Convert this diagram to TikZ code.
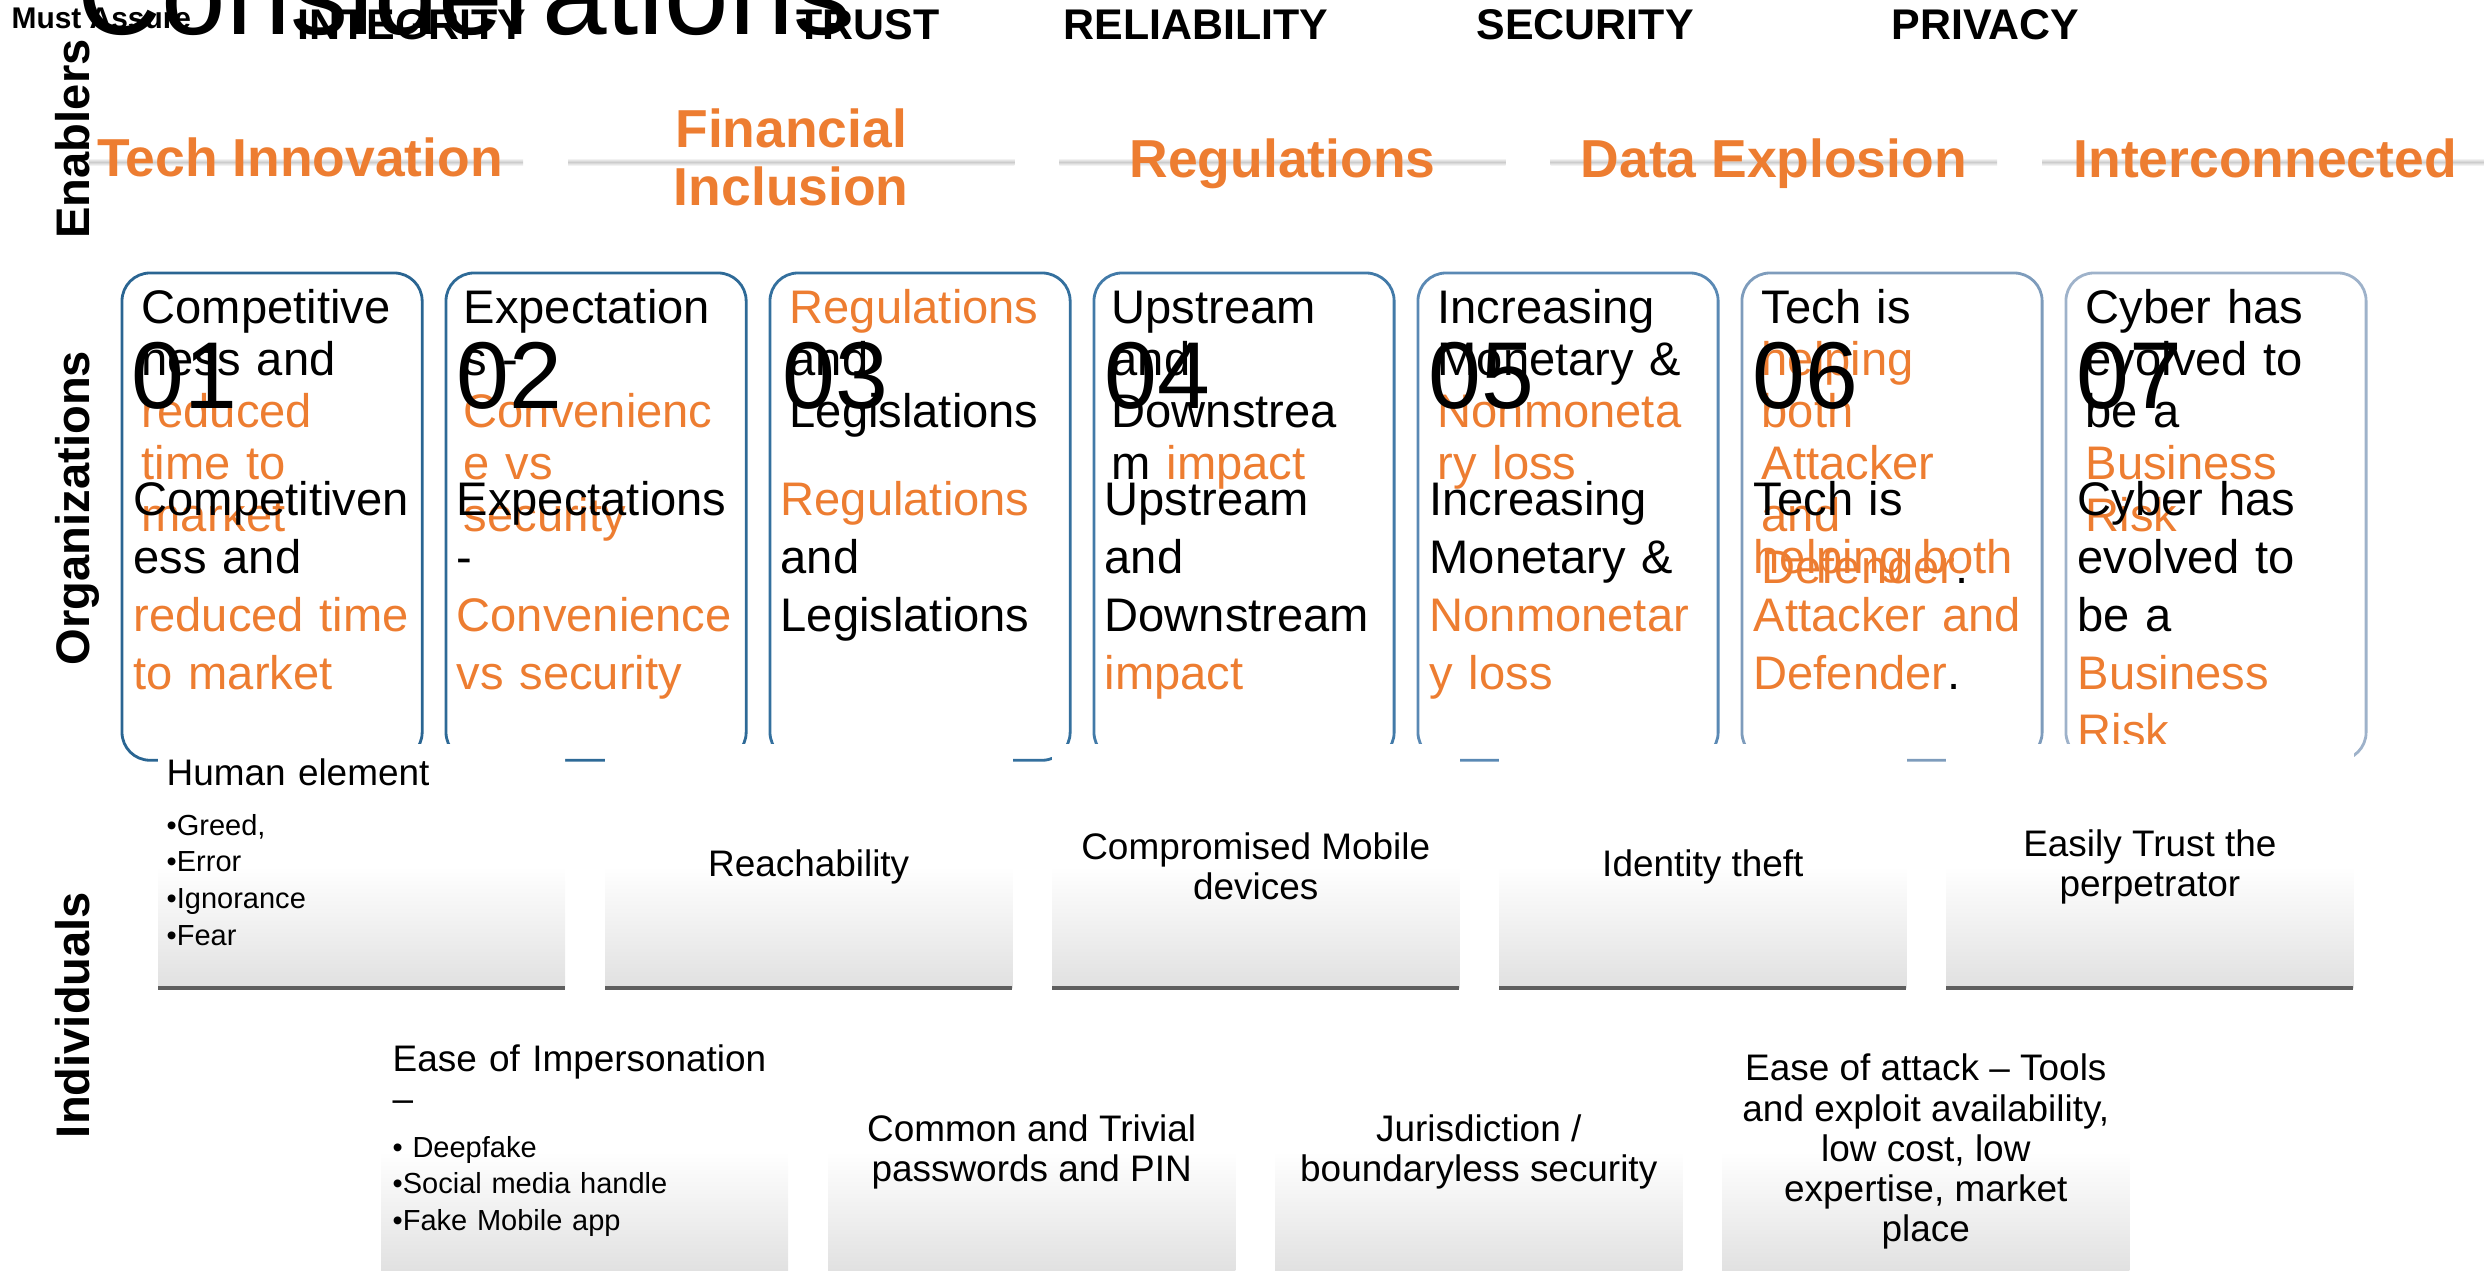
\documentclass[tikz,border=0pt]{standalone}
\usepackage{fontspec}
\setmainfont{Liberation Sans}
\usepackage{xcolor}
\usepackage{tikz}
\usetikzlibrary{positioning}
\definecolor{accent}{RGB}{237,125,49}
\definecolor{orgA}{RGB}{42,101,146}
\definecolor{orgB}{RGB}{46,106,151}
\definecolor{orgC}{RGB}{52,112,158}
\definecolor{orgD}{RGB}{66,122,168}
\definecolor{orgE}{RGB}{90,137,180}
\definecolor{orgF}{RGB}{126,156,188}
\definecolor{orgG}{RGB}{158,178,202}
\tikzset{
header/.style={
font=\fontsize{12.2}{14}\selectfont\bfseries,
inner sep=0pt,
anchor=base west
},
sidelabel/.style={
font=\fontsize{13.4}{16}\selectfont\bfseries,
rotate=90,
anchor=base,
inner sep=0pt
},
enabler/.style={
font=\fontsize{15.2}{16.5}\selectfont\bfseries,
text=accent,
align=center,
inner sep=0pt
},
bar/.style={
minimum width=4.46cm,
minimum height=0.08cm,
inner sep=0pt,
outer sep=0pt,
top color=white,
bottom color=white,
middle color=black!20
},
orgbox/.style={
draw,
rounded corners=0.28cm,
line width=0.8pt,
minimum width=3cm,
minimum height=4.87cm,
inner sep=0pt,
outer sep=0pt
},
layerone/.style={
font=\fontsize{13.4}{14.8}\selectfont,
text width=3cm,
align=left,
inner sep=0pt,
anchor=base west
},
layertwo/.style={
font=\fontsize{13.4}{16.5}\selectfont,
text width=3cm,
align=left,
inner sep=0pt,
anchor=base west
},
bignum/.style={
font=\fontsize{27}{30}\selectfont,
inner sep=0pt,
anchor=base west
},
card/.style={
minimum width=4.07cm,
minimum height=2.43cm,
inner sep=0pt,
outer sep=0pt,
top color=white,
bottom color=black!12,
middle color=white
},
cardbase/.style={
line width=1.14pt,
black!63
},
cardtext/.style={
font=\fontsize{10.5}{11.4}\selectfont,
align=center,
inner sep=0pt
},
cardtitle/.style={
font=\fontsize{10.5}{11.4}\selectfont,
text width=3.9cm,
align=left,
inner sep=0pt,
anchor=base west
},
bullets/.style={
font=\fontsize{8.25}{10.5}\selectfont,
text width=3.9cm,
align=left,
inner sep=0pt,
anchor=base west
}
}

\begin{document}
\begin{tikzpicture}[x=0.01cm,y=-0.01cm]

\useasboundingbox (0,0) rectangle (2484,1271);

% title and top row
\node[inner sep=0pt,anchor=base west,font=\fontsize{33}{36}\selectfont] (title) at (77,35) {Considerations};

\node[header,font=\fontsize{8.5}{10}\selectfont\bfseries] (assure) at (11,29) {Must Assure};

\node[header] (integrity) at (297,40) {INTEGRITY};

\node[header] (trust) at (796,40) {TRUST};

\node[header] (reliability) at (1063,40) {RELIABILITY};

\node[header] (security) at (1476,40) {SECURITY};

\node[header] (privacy) at (1891,40) {PRIVACY};

% row labels
\node[sidelabel] (enablers) at (90,139) {Enablers};

\node[sidelabel] (organizations) at (90,508) {Organizations};

\node[sidelabel] (individuals) at (90,1015) {Individuals};

% enablers
\node[bar,minimum width=4.34cm] (bar1) at (306,162) {};

\node[bar,right=0.45cm of bar1] (bar2) {};

\node[bar,right=0.45cm of bar2] (bar3) {};

\node[bar,right=0.45cm of bar3] (bar4) {};

\node[bar,right=0.45cm of bar4] (bar5) {};

\node[enabler,anchor=base] (tech) at ([xshift=-0.06cm,yshift=-0.15cm]bar1.center) {Tech Innovation};

\node[enabler,anchor=base,text width=4cm] (finance) at ([yshift=0.14cm]bar2.center) {Financial\\Inclusion};

\node[enabler,anchor=base] (regs) at ([yshift=-0.16cm]bar3.center) {Regulations};

\node[enabler,anchor=base] (data) at ([yshift=-0.16cm]bar4.center) {Data Explosion};

\node[enabler,anchor=base] (inter) at ([yshift=-0.16cm]bar5.center) {Interconnected};

% organizations
\node[orgbox,draw=orgA,anchor=north west] (org1) at (122,273) {};

\node[orgbox,draw=orgB,right=0.238cm of org1] (org2) {};

\node[orgbox,draw=orgC,right=0.238cm of org2] (org3) {};

\node[orgbox,draw=orgD,right=0.238cm of org3] (org4) {};

\node[orgbox,draw=orgE,right=0.238cm of org4] (org5) {};

\node[orgbox,draw=orgF,right=0.238cm of org5] (org6) {};

\node[orgbox,draw=orgG,right=0.238cm of org6] (org7) {};

\node[layerone] (top1) at ([xshift=0.19cm,yshift=-0.5cm]org1.north west)
{Competitive\\ness and\\\textcolor{accent}{reduced}\\\textcolor{accent}{time to}\\\textcolor{accent}{market}};
\node[layertwo] (low1) at ([xshift=0.11cm,yshift=-2.42cm]org1.north west)
{Competitiven\\ess and\\\textcolor{accent}{reduced time}\\\textcolor{accent}{to market}};
\node[bignum] (num1) at ([xshift=0.09cm,yshift=-1.35cm]org1.north west) {01};

\node[layerone] (top2) at ([xshift=0.17cm,yshift=-0.5cm]org2.north west)
{Expectation\\s -\\\textcolor{accent}{Convenienc}\\\textcolor{accent}{e vs}\\\textcolor{accent}{security}};
\node[layertwo] (low2) at ([xshift=0.10cm,yshift=-2.42cm]org2.north west)
{Expectations\\-\\\textcolor{accent}{Convenience}\\\textcolor{accent}{vs security}};
\node[bignum] (num2) at ([xshift=0.10cm,yshift=-1.35cm]org2.north west) {02};

\node[layerone] (top3) at ([xshift=0.19cm,yshift=-0.5cm]org3.north west)
{\textcolor{accent}{Regulations}\\and\\Legislations};
\node[layertwo] (low3) at ([xshift=0.10cm,yshift=-2.42cm]org3.north west)
{\textcolor{accent}{Regulations}\\and\\Legislations};
\node[bignum] (num3) at ([xshift=0.12cm,yshift=-1.35cm]org3.north west) {03};

\node[layerone] (top4) at ([xshift=0.17cm,yshift=-0.5cm]org4.north west)
{Upstream\\and\\Downstrea\\m \textcolor{accent}{impact}};
\node[layertwo] (low4) at ([xshift=0.10cm,yshift=-2.42cm]org4.north west)
{Upstream\\and\\Downstream\\\textcolor{accent}{impact}};
\node[bignum] (num4) at ([xshift=0.10cm,yshift=-1.35cm]org4.north west) {04};

\node[layerone] (top5) at ([xshift=0.19cm,yshift=-0.5cm]org5.north west)
{Increasing\\Monetary \&\\\textcolor{accent}{Nonmoneta}\\\textcolor{accent}{ry loss}};
\node[layertwo] (low5) at ([xshift=0.11cm,yshift=-2.42cm]org5.north west)
{Increasing\\Monetary \&\\\textcolor{accent}{Nonmonetar}\\\textcolor{accent}{y loss}};
\node[bignum] (num5) at ([xshift=0.10cm,yshift=-1.35cm]org5.north west) {05};

\node[layerone] (top6) at ([xshift=0.19cm,yshift=-0.5cm]org6.north west)
{Tech is\\\textcolor{accent}{helping}\\\textcolor{accent}{both}\\\textcolor{accent}{Attacker}\\\textcolor{accent}{and}\\\textcolor{accent}{Defender}.};
\node[layertwo] (low6) at ([xshift=0.11cm,yshift=-2.42cm]org6.north west)
{Tech is\\\textcolor{accent}{helping both}\\\textcolor{accent}{Attacker and}\\\textcolor{accent}{Defender}.};
\node[bignum] (num6) at ([xshift=0.10cm,yshift=-1.35cm]org6.north west) {06};

\node[layerone] (top7) at ([xshift=0.19cm,yshift=-0.5cm]org7.north west)
{Cyber has\\evolved to\\be a\\\textcolor{accent}{Business}\\\textcolor{accent}{Risk}};
\node[layertwo] (low7) at ([xshift=0.11cm,yshift=-2.42cm]org7.north west)
{Cyber has\\evolved to\\be a\\\textcolor{accent}{Business}\\\textcolor{accent}{Risk}};
\node[bignum] (num7) at ([xshift=0.10cm,yshift=-1.35cm]org7.north west) {07};

% individuals, first row
\node[card,anchor=north west] (ind1) at (158,745) {};

\node[card,right=0.398cm of ind1] (ind2) {};

\node[card,right=0.398cm of ind2] (ind3) {};

\node[card,right=0.398cm of ind3] (ind4) {};

\node[card,right=0.398cm of ind4] (ind5) {};

\draw[cardbase] (ind1.south west) -- (ind1.south east);
\draw[cardbase] (ind2.south west) -- (ind2.south east);
\draw[cardbase] (ind3.south west) -- (ind3.south east);
\draw[cardbase] (ind4.south west) -- (ind4.south east);
\draw[cardbase] (ind5.south west) -- (ind5.south east);

\node[cardtitle] (human) at ([xshift=0.08cm,yshift=-0.40cm]ind1.north west) {Human element};
\node[bullets] (humanlist) at ([xshift=0.08cm,yshift=-0.90cm]ind1.north west)
{•Greed,\\•Error\\•Ignorance\\•Fear};

\node[cardtext] (reach) at (ind2) {Reachability};

\node[cardtext] (mobile) at (ind3) {Compromised Mobile\\devices};

\node[cardtext] (identity) at (ind4) {Identity theft};

\node[cardtext] (perp) at (ind5) {Easily Trust the\\perpetrator};

% individuals, second row
\node[card,anchor=north west] (ind6) at (381,1030) {};

\node[card,right=0.398cm of ind6] (ind7) {};

\node[card,right=0.398cm of ind7] (ind8) {};

\node[card,right=0.398cm of ind8] (ind9) {};

\node[cardtitle] (imperson) at ([xshift=0.11cm,yshift=-0.41cm]ind6.north west) {Ease of Impersonation\\–};
\node[bullets] (impersonlist) at ([xshift=0.11cm,yshift=-1.27cm]ind6.north west)
{• Deepfake\\•Social media handle\\•Fake Mobile app};

\node[cardtext] (pins) at (ind7) {Common and Trivial\\passwords and PIN};

\node[cardtext] (juris) at (ind8) {Jurisdiction /\\boundaryless security};

\node[cardtext] (attack) at (ind9) {Ease of attack – Tools\\and exploit availability,\\low cost, low\\expertise, market\\place};

\end{tikzpicture}
\end{document}
